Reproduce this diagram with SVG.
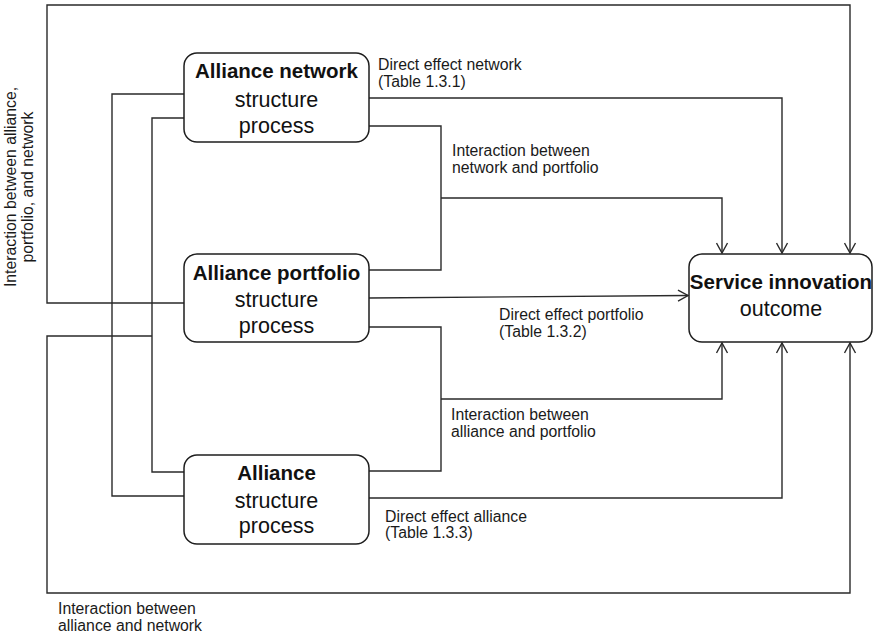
<svg xmlns="http://www.w3.org/2000/svg" width="874" height="635" viewBox="0 0 874 635">
  <style>
    .box { fill: #ffffff; stroke: #1e1e1e; stroke-width: 1.5; }
    .wire { fill: none; stroke: #2a2a2a; stroke-width: 1.4; }
    .head { fill: none; stroke: #2a2a2a; stroke-width: 1.4; }
    .title { font-family: "Liberation Sans", Arial, sans-serif; font-weight: bold; font-size: 20.5px; fill: #111; text-anchor: middle; }
    .sub { font-family: "Liberation Sans", Arial, sans-serif; font-size: 21.5px; fill: #111; text-anchor: middle; }
    .lbl { font-family: "Liberation Sans", Arial, sans-serif; font-size: 15.8px; fill: #1a1a1a; }
  </style>
  <defs>
    <marker id="arrow" markerUnits="userSpaceOnUse" markerWidth="13" markerHeight="13" refX="11" refY="6.5" orient="auto">
      <path class="head" d="M1,1 L11,6.5 L1,12"/>
    </marker>
  </defs>
  <rect width="874" height="635" fill="#ffffff"/>

  <!-- connectors -->
  <g id="connectors">
    <!-- direct effects -->
    <path class="wire" d="M369,98 H782 V253" marker-end="url(#arrow)"/>
    <path class="wire" d="M369,298 L688,295.5" marker-end="url(#arrow)"/>
    <path class="wire" d="M369,498 H782 V343" marker-end="url(#arrow)"/>
    <!-- network / portfolio interaction -->
    <path class="wire" d="M369,126 H441 V270 H369"/>
    <path class="wire" d="M441,198 H722 V253" marker-end="url(#arrow)"/>
    <!-- alliance / portfolio interaction -->
    <path class="wire" d="M369,327 H441 V471 H369"/>
    <path class="wire" d="M441,399 H722 V343" marker-end="url(#arrow)"/>
    <!-- alliance / portfolio / network interaction -->
    <path class="wire" d="M184,303 H47 V5 H850 V253" marker-end="url(#arrow)"/>
    <!-- network to alliance links -->
    <path class="wire" d="M184,94 H112 V496 H184"/>
    <path class="wire" d="M184,118 H152 V472 H184"/>
    <!-- alliance / network interaction -->
    <path class="wire" d="M152,336 H47 V593 H850 V343" marker-end="url(#arrow)"/>
  </g>

  <!-- nodes -->
  <g id="alliance-network">
    <rect class="box" x="184" y="53" width="185" height="89" rx="13"/>
    <text class="title" x="276.5" y="78">Alliance network</text>
    <text class="sub" x="276.5" y="107">structure</text>
    <text class="sub" x="276.5" y="133">process</text>
  </g>
  <g id="alliance-portfolio">
    <rect class="box" x="184" y="254" width="185" height="88" rx="13"/>
    <text class="title" x="276.5" y="280">Alliance portfolio</text>
    <text class="sub" x="276.5" y="307">structure</text>
    <text class="sub" x="276.5" y="333">process</text>
  </g>
  <g id="alliance">
    <rect class="box" x="184" y="455" width="185" height="89" rx="13"/>
    <text class="title" x="276.5" y="480">Alliance</text>
    <text class="sub" x="276.5" y="508">structure</text>
    <text class="sub" x="276.5" y="533">process</text>
  </g>
  <g id="service-innovation">
    <rect class="box" x="689" y="254" width="183" height="88" rx="13"/>
    <text class="title" x="781" y="289">Service innovation</text>
    <text class="sub" x="781" y="316">outcome</text>
  </g>

  <!-- connector labels -->
  <g id="labels">
    <text class="lbl" x="378" y="70">Direct effect network</text>
    <text class="lbl" x="378" y="87">(Table 1.3.1)</text>
    <text class="lbl" x="452" y="156">Interaction between</text>
    <text class="lbl" x="452" y="173">network and portfolio</text>
    <text class="lbl" x="499" y="320">Direct effect portfolio</text>
    <text class="lbl" x="499" y="337">(Table 1.3.2)</text>
    <text class="lbl" x="451" y="420">Interaction between</text>
    <text class="lbl" x="451" y="437">alliance and portfolio</text>
    <text class="lbl" x="385" y="522">Direct effect alliance</text>
    <text class="lbl" x="385" y="538">(Table 1.3.3)</text>
    <text class="lbl" x="58" y="614">Interaction between</text>
    <text class="lbl" x="58" y="631">alliance and network</text>
    <text class="lbl" text-anchor="middle" transform="translate(16,187) rotate(-90)">Interaction between alliance,</text>
    <text class="lbl" text-anchor="middle" transform="translate(33,187) rotate(-90)">portfolio, and network</text>
  </g>
</svg>
